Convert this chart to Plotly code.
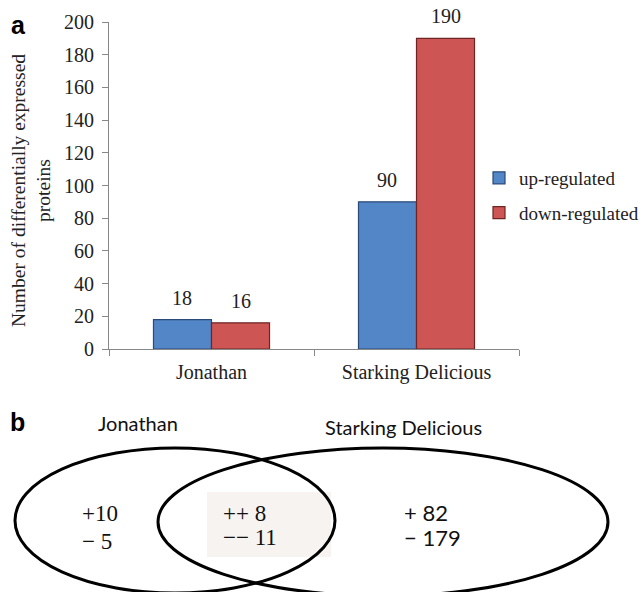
import plotly.graph_objects as go

# ---------------- data ----------------
cultivars = ["Jonathan", "Starking Delicious"]
up_regulated = [18, 90]
down_regulated = [16, 190]
y_ticks = [0, 20, 40, 60, 80, 100, 120, 140, 160, 180, 200]

venn_names = ["Jonathan", "Starking Delicious"]
jonathan_only = [10, 5]      # (+, -)
shared = [8, 11]             # (++, --)
starking_only = [82, 179]    # (+, -)

W, H = 644, 592
SERIF = "Liberation Serif, Times New Roman, serif"
SANS = "Lato, Noto Sans, sans-serif"


def px(x):
    return x / W


def py(y):
    return 1 - y / H


fig = go.Figure()
fig.add_trace(go.Bar(
    x=cultivars, y=up_regulated, name="up-regulated", legendgroup="u",
    marker=dict(color="#5386c6", line=dict(color="#2a4a78", width=1.2)),
))
fig.add_trace(go.Bar(
    x=cultivars, y=down_regulated, name="down-regulated", legendgroup="d",
    marker=dict(color="#cd5654", line=dict(color="#6e2524", width=1.2)),
))

# value labels above bars
annotations = []
for i, (u, d) in enumerate(zip(up_regulated, down_regulated)):
    for val, off in ((u, -0.1415), (d, 0.1415)):
        annotations.append(dict(
            x=i + off, y=val, xref="x", yref="y", text=str(val),
            showarrow=False, yanchor="bottom", yshift=9,
            font=dict(family=SERIF, size=20, color="#222"),
        ))

# panel letters
annotations.append(dict(x=px(9), y=py(25), xref="paper", yref="paper", text="<b>a</b>",
                        showarrow=False, xanchor="left", yanchor="middle",
                        font=dict(family="Liberation Sans, Arial", size=25, color="#000")))
annotations.append(dict(x=px(8), y=py(422), xref="paper", yref="paper", text="<b>b</b>",
                        showarrow=False, xanchor="left", yanchor="middle",
                        font=dict(family="Liberation Sans, Arial", size=25, color="#000")))

# y axis title
annotations.append(dict(x=px(31), y=py(191), xref="paper", yref="paper",
                        text="Number of differentially expressed<br>proteins",
                        textangle=-90, showarrow=False, xanchor="center", yanchor="middle",
                        font=dict(family=SERIF, size=19.5, color="#222")))

# ---------------- Venn diagram (paper coordinates) ----------------
annotations.append(dict(x=px(96), y=py(423), xref="paper", yref="paper", text=venn_names[0],
                        showarrow=False, xanchor="left", yanchor="middle",
                        font=dict(family=SANS, size=20, color="#111")))
annotations.append(dict(x=px(323), y=py(427), xref="paper", yref="paper", text=venn_names[1],
                        showarrow=False, xanchor="left", yanchor="middle",
                        font=dict(family=SANS, size=20, color="#111")))

venn_text = [
    (80, 513, f"+{jonathan_only[0]}", SERIF, 23),
    (80, 541, f"\u2212 {jonathan_only[1]}", SERIF, 23),
    (221, 513, f"++ {shared[0]}", SERIF, 23),
    (221, 537, f"\u2212\u2212 {shared[1]}", SERIF, 23),
    (402, 512, f"+ {starking_only[0]}", SANS, 22),
    (402, 537, f"\u2212 {starking_only[1]}", SANS, 22),
]
for x, y, t, f, s in venn_text:
    annotations.append(dict(x=px(x), y=py(y), xref="paper", yref="paper", text=t,
                            showarrow=False, xanchor="left", yanchor="middle",
                            font=dict(family=f, size=s, color="#111")))

shapes = [
    dict(type="rect", xref="paper", yref="paper", x0=px(207), x1=px(331), y0=py(492), y1=py(557),
         fillcolor="#f7f3f1", line=dict(width=0), layer="below"),
    dict(type="circle", xref="paper", yref="paper", x0=px(15), x1=px(335), y0=py(448), y1=py(593),
         line=dict(color="#000", width=3)),
    dict(type="circle", xref="paper", yref="paper", x0=px(158), x1=px(608), y0=py(448), y1=py(596),
         line=dict(color="#000", width=3)),
]

fig.update_layout(
    width=W, height=H,
    margin=dict(l=0, r=0, t=0, b=0, autoexpand=False),
    paper_bgcolor="white", plot_bgcolor="white",
    barmode="group", bargap=0.434, bargroupgap=0,
    showlegend=True,
    legend=dict(x=1.0, y=py(159), xanchor="right", yanchor="top",
                font=dict(family=SERIF, size=19, color="#222"),
                tracegroupgap=7, traceorder="grouped", itemwidth=30,
                borderwidth=0, bgcolor="rgba(0,0,0,0)"),
    xaxis=dict(domain=[px(109), px(519)], anchor="y", automargin=False,
               showline=True, linecolor="#888", linewidth=1,
               ticks="outside", tickson="boundaries", ticklen=6, tickcolor="#888",
               ticklabelstandoff=5,
               tickfont=dict(family=SERIF, size=20, color="#222"), showgrid=False),
    yaxis=dict(domain=[py(349), py(22)], anchor="x", range=[0, 200], automargin=False,
               tickvals=y_ticks, showline=True, linecolor="#888", linewidth=1,
               ticks="outside", ticklen=6, tickcolor="#888", showgrid=False, zeroline=False,
               ticklabelstandoff=4,
               tickfont=dict(family=SERIF, size=20, color="#222")),
    annotations=annotations,
    shapes=shapes,
)

fig.write_html("out.html", config={"displayModeBar": False},
               post_script="document.body.style.margin='0';")
